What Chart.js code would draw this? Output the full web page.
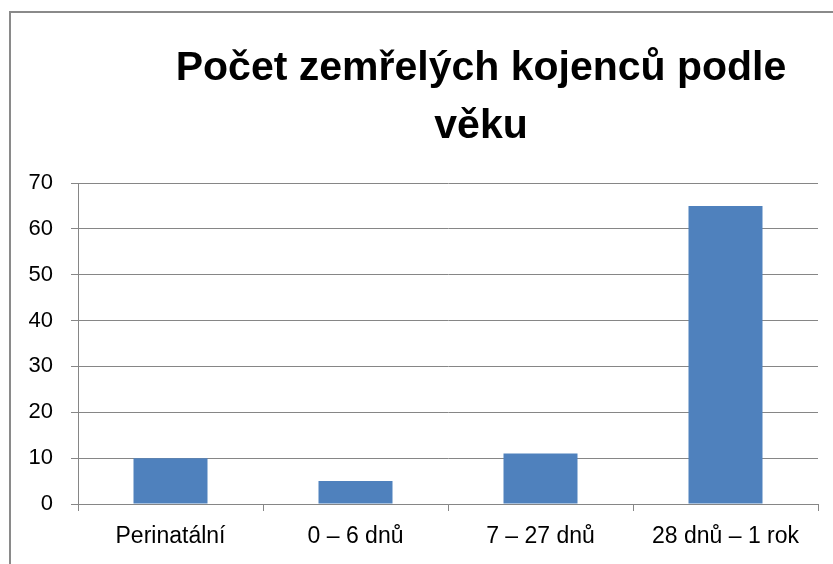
<!DOCTYPE html>
<html>
<head>
<meta charset="utf-8">
<script src="https://cdn.jsdelivr.net/npm/chart.js@4"></script>
<style>
  html, body { margin: 0; padding: 0; background: #fff; }
  #wrap { position: relative; width: 833px; height: 564px; overflow: hidden; }
  #frame { position: absolute; left: 9px; top: 11px; width: 900px; height: 700px;
           border-left: 2px solid #8a8a8a; border-top: 2px solid #8a8a8a; }
  canvas { position: absolute; left: 0; top: 0; }
</style>
</head>
<body>
<div id="wrap">
  <div id="frame"></div>
  <canvas id="chart" width="833" height="564"></canvas>
</div>
<script>
const categories = ['Perinatální', '0 – 6 dnů', '7 – 27 dnů', '28 dnů – 1 rok'];
const deaths = [10, 5, 11, 65];
const titleLines = ['Počet zemřelých kojenců podle', 'věku'];

const FONT = '"Liberation Sans", Arial, sans-serif';

// title is drawn a bit right of the page centre, as in the original
const titlePlugin = {
  id: 'offsetTitle',
  afterDraw(chart) {
    const ctx = chart.ctx;
    ctx.save();
    ctx.fillStyle = '#000';
    ctx.font = 'bold 41px ' + FONT;
    ctx.textAlign = 'center';
    ctx.textBaseline = 'alphabetic';
    ctx.fillText(titleLines[0], 481, 80);
    ctx.fillText(titleLines[1], 481, 138);
    ctx.restore();
  }
};

new Chart(document.getElementById('chart'), {
  type: 'bar',
  data: {
    labels: categories,
    datasets: [{
      data: deaths,
      backgroundColor: '#4F81BD',
      barPercentage: 0.4,
      categoryPercentage: 1.0
    }]
  },
  options: {
    responsive: false,
    animation: false,
    layout: { padding: { top: 183, right: 15, left: 0, bottom: 0 } },
    plugins: { legend: { display: false }, tooltip: { enabled: false } },
    scales: {
      x: {
        afterFit(scale) { scale.height = 60; },
        grid: { drawOnChartArea: false, offset: true, tickLength: 7, color: '#868686', lineWidth: 1 },
        border: { color: '#868686', width: 1 },
        ticks: { color: '#000', padding: 12, font: { family: FONT, size: 23 } }
      },
      y: {
        min: 0,
        max: 70,
        afterFit(scale) { scale.width = 78; },
        grid: { color: '#868686', lineWidth: 1, tickLength: 7 },
        border: { color: '#868686', width: 1 },
        ticks: { stepSize: 10, color: '#000', padding: 18, font: { family: FONT, size: 22 } }
      }
    }
  },
  plugins: [titlePlugin]
});
</script>
</body>
</html>
